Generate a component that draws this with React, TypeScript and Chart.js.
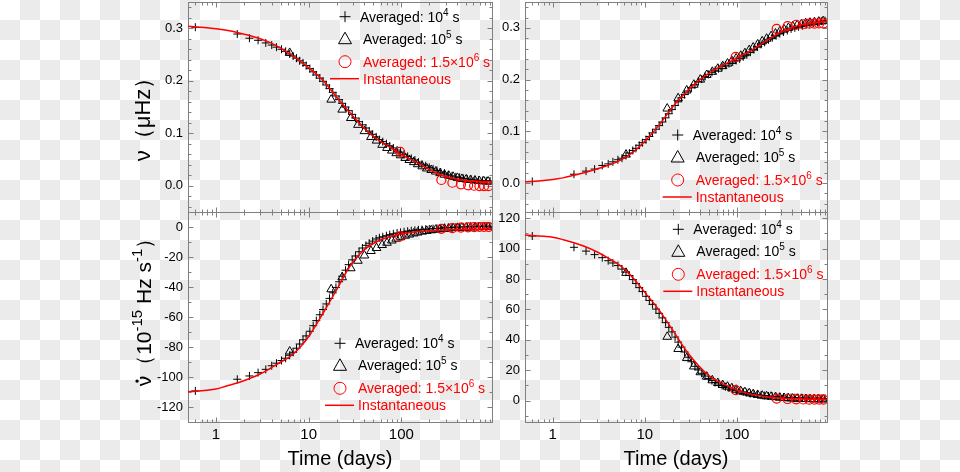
import React, { useEffect, useRef } from 'react';
import { Chart, registerables } from 'chart.js';

Chart.register(...registerables);

// ---------------- data (time in days) ----------------
const timeInstant = [0.5, 0.6, 0.8, 1, 1.3, 1.7, 2.2, 3, 3.8, 5, 6.25, 8, 10.3, 14.3, 20, 27.6, 38.4, 53.4, 74.3, 103, 144, 200, 256, 350, 457, 600, 750, 950];
const timeAvg1e4 = [0.6, 1.7, 2.3, 2.85, 3.45, 4, 4.5, 5.1, 5.65, 6.25, 6.8, 7.4, 8, 8.7, 9.4, 10.3, 11.2, 12.1, 13.2, 14.3, 15.5, 16.8, 18.2, 19.7, 21.3, 23, 25, 27, 29.5, 32, 35, 38, 41.5, 45, 49, 53.5, 58, 63, 69, 75, 82, 90, 98, 107, 117, 128, 140, 153, 167, 183, 200, 220, 242, 266, 292, 320, 352, 387, 425, 467, 513, 564, 620, 681, 749, 823, 905];
const timeAvg1e5 = [6.25, 17.5, 23, 28.5, 34, 40, 47, 54, 62, 70, 79, 88, 98, 110, 122, 136, 150, 168, 188, 210, 235, 262, 292, 325, 362, 403, 450, 500, 558, 622, 694, 774, 862];
const timeAvg15e6 = [97, 270, 355, 440, 525, 610, 695, 780, 870];

// top-left: nu (uHz), decaying
const nuA_inst = [0.304, 0.3025, 0.301, 0.299, 0.296, 0.292, 0.287, 0.28, 0.273, 0.262, 0.251, 0.238, 0.223, 0.2006, 0.169, 0.14, 0.112, 0.09, 0.074, 0.058, 0.0455, 0.031, 0.022, 0.015, 0.011, 0.009, 0.008, 0.0076];
const nuA_1e4 = [0.302, 0.289, 0.281, 0.277, 0.272, 0.268, 0.264, 0.26, 0.256, 0.251, 0.247, 0.243, 0.238, 0.234, 0.229, 0.223, 0.217, 0.211, 0.205, 0.199, 0.192, 0.185, 0.178, 0.171, 0.164, 0.157, 0.15, 0.143, 0.136, 0.129, 0.122, 0.116, 0.11, 0.104, 0.098, 0.093, 0.088, 0.084, 0.08, 0.076, 0.072, 0.068, 0.064, 0.06, 0.056, 0.052, 0.049, 0.045, 0.041, 0.038, 0.035, 0.032, 0.029, 0.026, 0.024, 0.021, 0.019, 0.017, 0.016, 0.014, 0.013, 0.012, 0.011, 0.0105, 0.01, 0.0095, 0.009];
const nuA_1e5 = [0.253, 0.164, 0.145, 0.129, 0.116, 0.104, 0.093, 0.086, 0.078, 0.072, 0.067, 0.062, 0.058, 0.053, 0.049, 0.045, 0.041, 0.037, 0.033, 0.03, 0.027, 0.024, 0.021, 0.019, 0.017, 0.015, 0.013, 0.012, 0.011, 0.01, 0.009, 0.0085, 0.008];
const nuA_15e6 = [0.0645, 0.011, 0.0057, 0.0027, 0.0008, 0.0, -0.0006, -0.0008, -0.0008];

// top-right: nu (uHz), rising
const nuB_inst = [0.002, 0.003, 0.005, 0.007, 0.01, 0.015, 0.02, 0.027, 0.033, 0.041, 0.05, 0.064, 0.083, 0.112, 0.147, 0.174, 0.198, 0.216, 0.23, 0.243, 0.257, 0.273, 0.285, 0.297, 0.304, 0.308, 0.311, 0.313];
const nuB_1e4 = [0.003, 0.017, 0.023, 0.027, 0.034, 0.037, 0.041, 0.045, 0.048, 0.053, 0.058, 0.063, 0.067, 0.073, 0.078, 0.084, 0.09, 0.097, 0.104, 0.111, 0.118, 0.126, 0.134, 0.142, 0.15, 0.157, 0.165, 0.171, 0.178, 0.184, 0.19, 0.196, 0.201, 0.206, 0.21, 0.214, 0.218, 0.221, 0.225, 0.228, 0.231, 0.234, 0.237, 0.24, 0.244, 0.248, 0.253, 0.258, 0.263, 0.268, 0.272, 0.277, 0.281, 0.285, 0.289, 0.292, 0.295, 0.298, 0.3, 0.302, 0.304, 0.306, 0.308, 0.309, 0.311, 0.313, 0.314];
const nuB_1e5 = [0.055, 0.144, 0.164, 0.179, 0.19, 0.2, 0.209, 0.215, 0.221, 0.226, 0.231, 0.236, 0.241, 0.246, 0.251, 0.257, 0.262, 0.268, 0.274, 0.279, 0.284, 0.289, 0.293, 0.297, 0.3, 0.303, 0.305, 0.307, 0.309, 0.31, 0.311, 0.312, 0.313];
const nuB_15e6 = [0.244, 0.298, 0.3035, 0.306, 0.307, 0.308, 0.308, 0.3085, 0.3085];

// bottom-left: nu-dot (1e-15 Hz/s), rising to 0
const nudotA_inst = [-109.8, -109.5, -108.8, -108, -106, -104, -101.5, -98, -94.5, -90, -86.5, -80.5, -72, -57.5, -42, -26.5, -16, -10, -6.5, -4.5, -3.2, -2.5, -2.1, -1.8, -1.6, -1.5, -1.4, -1.4];
const nudotA_1e4 = [-109.3, -101.5, -99.3, -97.1, -94.9, -92.5, -90.8, -89, -87.5, -85.5, -83.5, -80.8, -78, -75.2, -72.6, -69.5, -65.8, -62.4, -58.5, -55, -51.3, -47.6, -43.9, -40.3, -36.5, -32.8, -28.8, -25.1, -21.9, -19.3, -16.5, -14, -12.2, -10.8, -9.4, -8, -7.2, -6.5, -5.8, -5.1, -4.5, -4, -3.6, -3.2, -2.8, -2.5, -2.2, -1.9, -1.7, -1.5, -1.3, -1.1, -0.9, -0.7, -0.5, -0.4, -0.2, -0.1, 0, 0.1, 0.2, 0.3, 0.3, 0.4, 0.4, 0.5, 0.5];
const nudotA_1e5 = [-83, -41.5, -33.5, -27.5, -22.5, -19, -16, -14, -12, -10.5, -9, -7.8, -6.8, -5.8, -5, -4.3, -3.7, -3.1, -2.6, -2.2, -1.8, -1.5, -1.2, -1, -0.8, -0.6, -0.5, -0.4, -0.3, -0.2, -0.1, 0, 0];
const nudotA_15e6 = [-6.3, -1.2, -0.8, -0.4, -0.2, -0.1, 0, 0, 0];

// bottom-right: nu-dot (1e-15 Hz/s), decaying to 0
const nudotB_inst = [108.9, 108.6, 108, 107.4, 105.8, 103.8, 101.5, 97.9, 94.5, 90.2, 85.5, 78.5, 70.2, 59.5, 46.5, 33.5, 23, 15, 10.5, 6.6, 4.2, 2.8, 2, 1.5, 1.2, 1, 0.9, 0.9];
const nudotB_1e4 = [108.2, 100.8, 98.3, 96, 94, 92, 90.5, 88.8, 86.5, 84.5, 82.3, 79.6, 77, 74.3, 71.7, 68.6, 65.9, 63.3, 60.2, 57.4, 54.4, 51.3, 48.2, 45.2, 41.8, 38.5, 35.2, 32, 28.6, 25.6, 22.6, 20.2, 18, 16.2, 14.6, 13.2, 12, 11, 10, 9.2, 8.4, 7.6, 7, 6.4, 5.8, 5.3, 4.8, 4.4, 4, 3.7, 3.4, 3.1, 2.9, 2.7, 2.5, 2.3, 2.2, 2.1, 2, 1.9, 1.8, 1.7, 1.6, 1.6, 1.5, 1.5, 1.5];
const nudotB_1e5 = [84, 42, 34, 28, 22.5, 18.7, 15.8, 13.4, 11.6, 10.3, 9.2, 8.2, 7.2, 6.3, 5.6, 4.9, 4.3, 3.8, 3.3, 2.9, 2.6, 2.3, 2, 1.8, 1.6, 1.4, 1.3, 1.2, 1.1, 1, 0.9, 0.9, 0.8];
const nudotB_15e6 = [7, 1.4, 1.1, 0.9, 0.8, 0.7, 0.7, 0.7, 0.7];

// ticks / labels
const X_MIN = 0.5;
const X_MAX = 950;
const xTickValues = [1, 10, 100];
const nuTicks = [0, 0.1, 0.2, 0.3];
const nuDotNegTicks = [-120, -100, -80, -60, -40, -20, 0];
const nuDotPosTicks = [0, 20, 40, 60, 80, 100, 120];
const legendLabels = ['Averaged: 10', 'Averaged: 10', 'Averaged: 1.5×10', 'Instantaneous'];
const legendExponents = ['4', '5', '6', ''];
const xTitle = 'Time (days)';

// ---------------- styling ----------------
const FONT = '"Liberation Sans", Arial, Helvetica, sans-serif';
const RED = '#ff0000';
const FRAME = '#808080';

type Seg = [string, boolean];

function drawSegs(ctx: CanvasRenderingContext2D, segs: Seg[], x: number, y: number, size: number, color: string, measureOnly = false): number {
  let cx = x;
  for (const [t, sup] of segs) {
    const fs = sup ? Math.round(size * 0.7) : size;
    ctx.font = `${fs}px ${FONT}`;
    if (!measureOnly) {
      ctx.fillStyle = color;
      ctx.fillText(t, cx, sup ? y - size * 0.42 : y);
    }
    cx += ctx.measureText(t).width;
  }
  return cx - x;
}

function drawLegend(ctx: CanvasRenderingContext2D, ax: number, ay: number) {
  const rows = [0, 22, 45, 62];
  ctx.save();
  ctx.lineWidth = 1;
  ctx.strokeStyle = '#000';
  ctx.beginPath();
  ctx.moveTo(ax - 5.5, ay + rows[0]);
  ctx.lineTo(ax + 5.5, ay + rows[0]);
  ctx.moveTo(ax, ay + rows[0] - 5.5);
  ctx.lineTo(ax, ay + rows[0] + 5.5);
  ctx.stroke();
  const ty = ay + rows[1];
  ctx.beginPath();
  ctx.moveTo(ax, ty - 6.5);
  ctx.lineTo(ax + 6.5, ty + 5);
  ctx.lineTo(ax - 6.5, ty + 5);
  ctx.closePath();
  ctx.stroke();
  ctx.strokeStyle = RED;
  ctx.beginPath();
  ctx.arc(ax, ay + rows[2], 6, 0, Math.PI * 2);
  ctx.stroke();
  ctx.lineWidth = 1.5;
  ctx.beginPath();
  ctx.moveTo(ax - 15, ay + rows[3]);
  ctx.lineTo(ax + 14, ay + rows[3]);
  ctx.stroke();
  ctx.textAlign = 'left';
  ctx.textBaseline = 'alphabetic';
  const colors = ['#000', '#000', RED, RED];
  for (let i = 0; i < 4; i++) {
    const segs: Seg[] = [[legendLabels[i], false]];
    if (legendExponents[i]) {
      segs.push([legendExponents[i], true]);
      segs.push([' s', false]);
    }
    drawSegs(ctx, segs, ax + (i === 0 ? 15 : 18), ay + rows[i] + 5, 14, colors[i]);
  }
  ctx.restore();
}

function drawRotatedTitle(ctx: CanvasRenderingContext2D, segs: Seg[], baseX: number, centerY: number, size: number, withDot: boolean) {
  ctx.save();
  ctx.translate(baseX, centerY);
  ctx.rotate(-Math.PI / 2);
  ctx.textAlign = 'left';
  ctx.textBaseline = 'alphabetic';
  const w = drawSegs(ctx, segs, 0, 0, size, '#000', true);
  const x0 = -w / 2;
  drawSegs(ctx, segs, x0, 0, size, '#000');
  if (withDot) {
    ctx.font = `${size}px ${FONT}`;
    const nw = ctx.measureText(segs[0][0]).width;
    ctx.beginPath();
    ctx.arc(x0 + nw / 2, -size * 0.52 - 3, 1.7, 0, Math.PI * 2);
    ctx.fillStyle = '#000';
    ctx.fill();
  }
  ctx.restore();
}

type Panel = {
  area: { left: number; right: number; top: number; bottom: number };
  yMin: number;
  yMax: number;
  yTicks: number[];
  yMinorStep: number;
  fmt: (v: number) => string;
  showX: boolean;
  inst: number[];
  a1e4: number[];
  a1e5: number[];
  a15e6: number[];
  legend: [number, number];
  yTitle: null | 'nu' | 'nudot';
};

const PANELS: Panel[] = [
  {
    area: { left: 188, right: 492, top: 2, bottom: 212 },
    yMin: -0.05, yMax: 0.35, yTicks: nuTicks, yMinorStep: 0.02, fmt: (v) => v.toFixed(1),
    showX: false, inst: nuA_inst, a1e4: nuA_1e4, a1e5: nuA_1e5, a15e6: nuA_15e6,
    legend: [345, 16.7], yTitle: 'nu',
  },
  {
    area: { left: 525, right: 827, top: 2, bottom: 212 },
    yMin: -0.056, yMax: 0.35, yTicks: nuTicks, yMinorStep: 0.02, fmt: (v) => v.toFixed(1),
    showX: false, inst: nuB_inst, a1e4: nuB_1e4, a1e5: nuB_1e5, a15e6: nuB_15e6,
    legend: [677.7, 135], yTitle: null,
  },
  {
    area: { left: 188, right: 492, top: 212, bottom: 422 },
    yMin: -130, yMax: 10, yTicks: nuDotNegTicks, yMinorStep: 10, fmt: (v) => String(v),
    showX: true, inst: nudotA_inst, a1e4: nudotA_1e4, a1e5: nudotA_1e5, a15e6: nudotA_15e6,
    legend: [340, 343.3], yTitle: 'nudot',
  },
  {
    area: { left: 525, right: 827, top: 212, bottom: 422 },
    yMin: -14, yMax: 124, yTicks: nuDotPosTicks, yMinorStep: 10, fmt: (v) => String(v),
    showX: true, inst: nudotB_inst, a1e4: nudotB_1e4, a1e5: nudotB_1e5, a15e6: nudotB_15e6,
    legend: [678.3, 229.3], yTitle: null,
  },
];

function zip(xs: number[], ys: number[]) {
  return xs.map((x, i) => ({ x, y: ys[i] }));
}

function decor(p: Panel) {
  return {
    id: 'panelDecor',
    beforeDatasetsDraw(chart: any) {
      const { ctx, chartArea: a, scales } = chart;
      const xs = scales.x;
      const ys = scales.y;
      const L = Math.round(a.left) + 0.5;
      const R = Math.round(a.right) + 0.5;
      const T = Math.round(a.top) + 0.5;
      const B = Math.round(a.bottom) + 0.5;
      ctx.save();
      ctx.strokeStyle = FRAME;
      ctx.lineWidth = 1;
      ctx.strokeRect(L, T, R - L, B - T);
      ctx.beginPath();
      for (let d = -1; d <= 3; d++) {
        for (let k = 1; k <= 9; k++) {
          const v = k * Math.pow(10, d);
          if (v < xs.min * 0.999 || v > xs.max * 1.001) continue;
          const x = Math.round(xs.getPixelForValue(v)) + 0.5;
          const len = k === 1 ? 5 : 3;
          ctx.moveTo(x, B);
          ctx.lineTo(x, B - len);
          ctx.moveTo(x, T);
          ctx.lineTo(x, T + len);
        }
      }
      const step = p.yMinorStep;
      for (let i = Math.ceil(ys.min / step - 1e-6); i * step <= ys.max + 1e-9; i++) {
        const v = i * step;
        const major = p.yTicks.some((t) => Math.abs(t - v) < step * 0.01);
        const y = Math.round(ys.getPixelForValue(v)) + 0.5;
        const len = major ? 5 : 3;
        ctx.moveTo(L, y);
        ctx.lineTo(L + len, y);
        ctx.moveTo(R, y);
        ctx.lineTo(R - len, y);
      }
      ctx.stroke();
      ctx.restore();
    },
    afterDraw(chart: any) {
      const { ctx, chartArea: a } = chart;
      drawLegend(ctx, p.legend[0], p.legend[1]);
      if (p.showX) {
        ctx.save();
        ctx.font = `20px ${FONT}`;
        ctx.fillStyle = '#000';
        ctx.textAlign = 'center';
        ctx.textBaseline = 'alphabetic';
        ctx.fillText(xTitle, (a.left + a.right) / 2, 465);
        ctx.restore();
      }
      if (p.yTitle === 'nu') {
        drawRotatedTitle(ctx, [['ν', false], ['（', false], ['μHz', false], ['）', false]], 150, (a.top + a.bottom) / 2 + 7, 22, false);
      } else if (p.yTitle === 'nudot') {
        drawRotatedTitle(ctx, [['ν', false], ['（', false], ['10', false], ['-15', true], [' Hz s', false], ['-1', true], ['）', false]], 151, (a.top + a.bottom) / 2 - 10, 21, true);
      }
    },
  };
}

function makeChart(canvas: HTMLCanvasElement, p: Panel) {
  const yW = 60;
  const xH = p.showX ? 30 : 0;
  const transparent = 'rgba(0,0,0,0)';
  return new Chart(canvas, {
    type: 'scatter',
    data: {
      datasets: [
        {
          label: 'Averaged: 1.5×10^6 s',
          data: zip(timeAvg15e6, p.a15e6),
          showLine: false,
          pointStyle: 'circle',
          pointRadius: 4.5,
          pointBorderColor: RED,
          pointBackgroundColor: transparent,
          pointBorderWidth: 1.2,
          borderColor: RED,
          backgroundColor: transparent,
        },
        {
          label: 'Instantaneous',
          data: zip(timeInstant, p.inst),
          showLine: true,
          pointRadius: 0,
          borderColor: RED,
          borderWidth: 1.5,
          cubicInterpolationMode: 'monotone',
          fill: false,
        },
        {
          label: 'Averaged: 10^4 s',
          data: zip(timeAvg1e4, p.a1e4),
          showLine: false,
          pointStyle: 'cross',
          pointRadius: 4,
          pointBorderColor: '#000',
          pointBorderWidth: 1,
          borderColor: '#000',
        },
        {
          label: 'Averaged: 10^5 s',
          data: zip(timeAvg1e5, p.a1e5),
          showLine: false,
          pointStyle: 'triangle',
          pointRadius: 5,
          pointBorderColor: '#000',
          pointBackgroundColor: transparent,
          pointBorderWidth: 1,
          borderColor: '#000',
          backgroundColor: transparent,
        },
      ],
    } as any,
    options: {
      responsive: false,
      maintainAspectRatio: false,
      animation: false,
      devicePixelRatio: 1,
      events: [],
      layout: {
        autoPadding: false,
        padding: { left: p.area.left - yW, right: 960 - p.area.right, top: p.area.top, bottom: 472 - p.area.bottom - xH },
      },
      plugins: { legend: { display: false }, tooltip: { enabled: false }, title: { display: false } },
      scales: {
        x: {
          type: 'logarithmic',
          position: 'bottom',
          min: X_MIN,
          max: X_MAX,
          grid: { display: false, drawTicks: false },
          border: { display: false },
          ticks: {
            display: p.showX,
            autoSkip: false,
            maxRotation: 0,
            minRotation: 0,
            color: '#000',
            padding: 4,
            font: { family: FONT, size: 15 },
            callback: (v: any) => String(v),
          },
          afterBuildTicks: (s: any) => {
            s.ticks = xTickValues.map((v) => ({ value: v }));
          },
          afterFit: (s: any) => {
            s.height = xH;
            s.paddingLeft = 0;
            s.paddingRight = 0;
            s.paddingTop = 0;
            s.paddingBottom = 0;
          },
        },
        y: {
          type: 'linear',
          position: 'left',
          min: p.yMin,
          max: p.yMax,
          grid: { display: false, drawTicks: false },
          border: { display: false },
          ticks: {
            color: '#000',
            padding: 5,
            autoSkip: false,
            font: { family: FONT, size: 13 },
            callback: (v: any) => p.fmt(Number(v)),
          },
          afterBuildTicks: (s: any) => {
            s.ticks = p.yTicks.map((v) => ({ value: v }));
          },
          afterFit: (s: any) => {
            s.width = yW;
            s.paddingLeft = 0;
            s.paddingRight = 0;
            s.paddingTop = 0;
            s.paddingBottom = 0;
          },
        },
      },
    } as any,
    plugins: [decor(p)],
  });
}

export default function App() {
  const r0 = useRef<HTMLCanvasElement>(null);
  const r1 = useRef<HTMLCanvasElement>(null);
  const r2 = useRef<HTMLCanvasElement>(null);
  const r3 = useRef<HTMLCanvasElement>(null);
  const refs = [r0, r1, r2, r3];

  useEffect(() => {
    const charts = PANELS.map((p, i) => makeChart(refs[i].current as HTMLCanvasElement, p));
    return () => charts.forEach((c) => c.destroy());
  }, []);

  return (
    <div
      style={{
        position: 'fixed',
        left: 0,
        top: 0,
        width: 960,
        height: 472,
        backgroundColor: '#ffffff',
        backgroundImage: 'conic-gradient(#ebebeb 0 25%, #ffffff 0 50%, #ebebeb 0 75%, #ffffff 0)',
        backgroundSize: '40px 40px',
      }}
    >
      {refs.map((r, i) => (
        <canvas key={i} ref={r} width={960} height={472} style={{ position: 'absolute', left: 0, top: 0 }} />
      ))}
    </div>
  );
}
